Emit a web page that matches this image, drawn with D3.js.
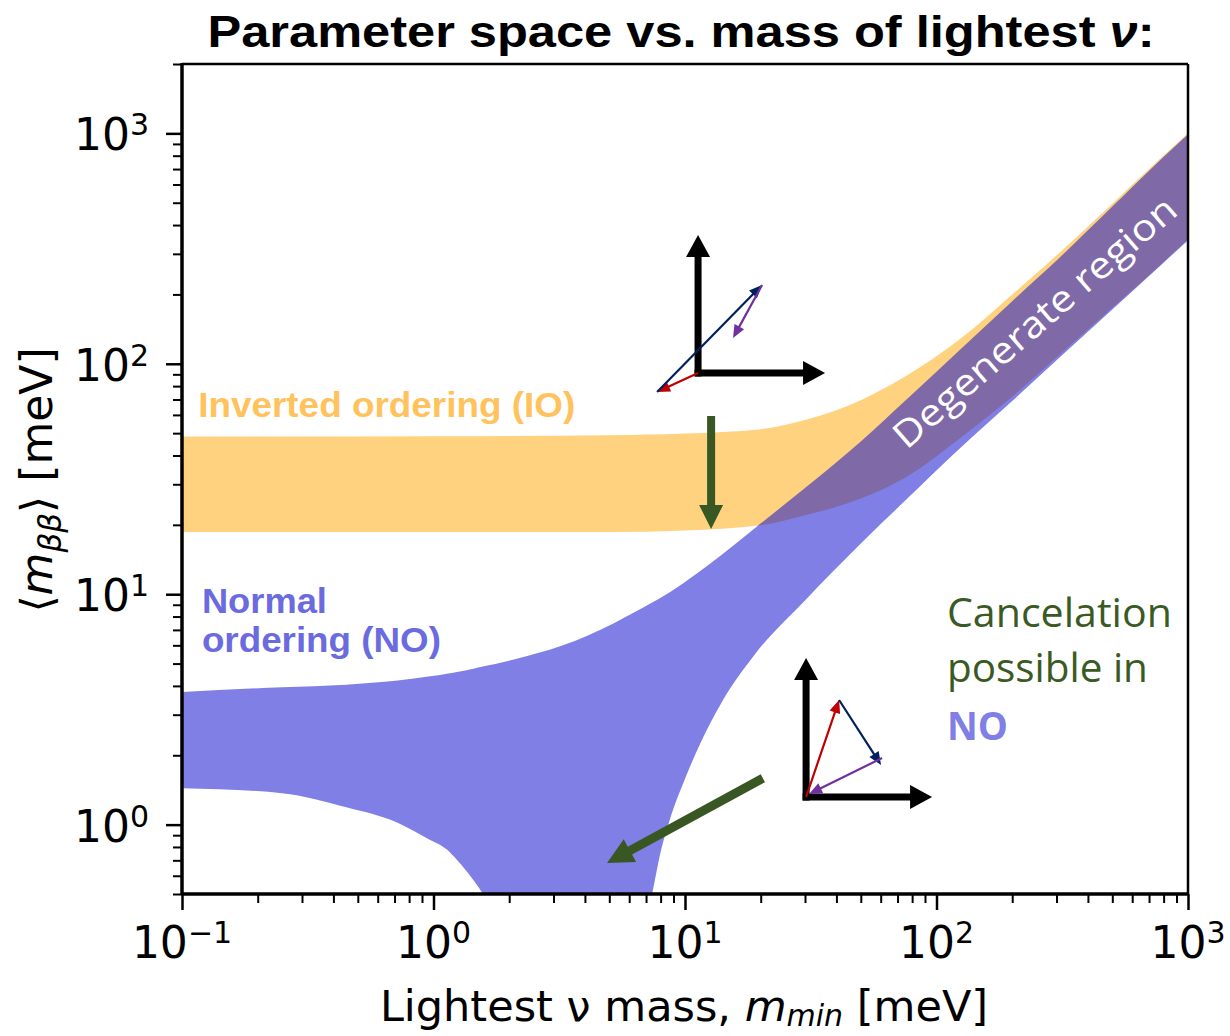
<!DOCTYPE html>
<html lang="en">
<head>
<meta charset="UTF-8">
<title>Parameter space vs. mass of lightest neutrino</title>
<script src="https://d3js.org/d3.v7.min.js"></script>
<style>
  body { margin: 0; background: #fff; }
  svg { display: block; }
</style>
</head>
<body>
<div id="chart"></div>
<script>
// Inverted ordering band, edges in meV vs lightest mass (meV)
const ioMass  = [0.1, 1, 5, 10, 20, 30, 50, 75, 124, 200, 310, 500, 774, 1000];
const ioUpper = [48.3, 48.5, 49, 49.8, 52, 57, 69.5, 88, 128, 200, 305, 495, 775, 1000];
const ioLower = [18.6, 18.6, 18.6, 18.9, 19.9, 22, 26, 32, 47.5, 72, 110, 175, 268, 347];

// Normal ordering band (lower edge drops below the plot floor in the funnel)
const noMass  = [0.1, 0.25, 0.45, 0.72, 0.97, 1.13, 1.24, 1.44, 1.57, 2.07, 3.27, 5.17, 7.4, 8, 8.7, 10, 11.5, 14, 19, 30, 50, 76, 124, 200, 310, 500, 774, 1000];
const noUpper = [3.76, 3.95, 4.05, 4.22, 4.4, 4.52, 4.6, 4.75, 4.85, 5.2, 6.0, 7.45, 9.2, 9.65, 10.2, 11.3, 12.6, 14.85, 19.4, 28.9, 46, 70, 115, 187, 290, 481, 764, 990];
const noLower = [1.44, 1.37, 1.19, 1.02, 0.857, 0.78, 0.703, 0.575, 0.5, 0.2, 0.2, 0.2, 0.5, 0.76, 1.05, 1.58, 2.25, 3.4, 5.5, 9.4, 16.6, 25.8, 43, 69, 107, 172, 266, 344];

// axis ticks
const majorTicksX = [0.1, 1, 10, 100, 1000];
const majorTicksY = [1, 10, 100, 1000];
const tickExponents = {0.1: "\u22121", 1: "0", 10: "1", 100: "2", 1000: "3"};

const width = 1230, height = 1036;
const margin = {top: 64, right: 42, bottom: 142, left: 182};

const x = d3.scaleLog().domain([0.1, 1000]).range([margin.left, width - margin.right]);
const y = d3.scaleLog().domain([0.5, 2000]).range([height - margin.bottom, margin.top]);

function minorTicks(scale) {
    const [a, b] = scale.domain();
    const out = [];
    for (let e = Math.floor(Math.log10(a)); e <= Math.ceil(Math.log10(b)); e++) {
        for (let k = 2; k <= 9; k++) {
            const v = k * Math.pow(10, e);
            if (v >= a * 0.999 && v <= b * 1.001) out.push(v);
        }
    }
    return out;
}

const svg = d3.select("#chart").append("svg")
    .attr("width", width)
    .attr("height", height);

svg.append("defs").append("clipPath").attr("id", "plotClip")
  .append("rect")
    .attr("x", margin.left).attr("y", margin.top)
    .attr("width", width - margin.left - margin.right)
    .attr("height", height - margin.top - margin.bottom);

const area = d3.area()
    .x(d => x(d.m))
    .y0(d => y(d.lo))
    .y1(d => y(d.hi))
    .curve(d3.curveMonotoneX);

const ioData = ioMass.map((m, i) => ({m, lo: ioLower[i], hi: ioUpper[i]}));
const noData = noMass.map((m, i) => ({m, lo: noLower[i], hi: noUpper[i]}));

const bands = svg.append("g").attr("clip-path", "url(#plotClip)");
bands.append("path").datum(ioData)
    .attr("d", area)
    .attr("fill", "orange").attr("fill-opacity", 0.5);
bands.append("path").datum(noData)
    .attr("d", area)
    .attr("fill", "mediumblue").attr("fill-opacity", 0.5);

// axes
const xAxisY = height - margin.bottom;
svg.append("g").attr("transform", `translate(0,${xAxisY})`)
    .call(d3.axisBottom(x).tickValues(minorTicks(x)).tickSize(9).tickFormat(""))
    .call(g => g.select(".domain").remove())
    .call(g => g.selectAll("line").attr("stroke-width", 2));
svg.append("g").attr("transform", `translate(0,${xAxisY})`)
    .call(d3.axisBottom(x).tickValues(majorTicksX).tickSize(16).tickFormat(""))
    .call(g => g.select(".domain").remove())
    .call(g => g.selectAll("line").attr("stroke-width", 2.5));
svg.append("g").attr("transform", `translate(${margin.left},0)`)
    .call(d3.axisLeft(y).tickValues(minorTicks(y)).tickSize(9).tickFormat(""))
    .call(g => g.select(".domain").remove())
    .call(g => g.selectAll("line").attr("stroke-width", 2));
svg.append("g").attr("transform", `translate(${margin.left},0)`)
    .call(d3.axisLeft(y).tickValues(majorTicksY).tickSize(16).tickFormat(""))
    .call(g => g.select(".domain").remove())
    .call(g => g.selectAll("line").attr("stroke-width", 2.5));

// tick labels 10^n
const tickFont = "'DejaVu Sans', sans-serif";
function powLabel(sel) {
    sel.append("tspan").text("10");
    sel.append("tspan").attr("font-size", 30).attr("dy", -15).text(d => tickExponents[d]);
}
svg.append("g").selectAll("text").data(majorTicksX).join("text")
    .attr("x", d => x(d)).attr("y", xAxisY + 64)
    .attr("text-anchor", "middle")
    .attr("font-family", tickFont).attr("font-size", 44)
    .call(powLabel);
svg.append("g").selectAll("text").data(majorTicksY).join("text")
    .attr("x", margin.left - 33).attr("y", d => y(d) + 17)
    .attr("text-anchor", "end")
    .attr("font-family", tickFont).attr("font-size", 44)
    .call(powLabel);

// spines
const spines = svg.append("g").attr("stroke", "#000").attr("fill", "none");
spines.append("line").attr("x1", margin.left).attr("x2", width - margin.right)
    .attr("y1", margin.top).attr("y2", margin.top).attr("stroke-width", 2.5);
spines.append("line").attr("x1", width - margin.right).attr("x2", width - margin.right)
    .attr("y1", margin.top).attr("y2", xAxisY).attr("stroke-width", 2.5);
spines.append("line").attr("x1", margin.left).attr("x2", margin.left)
    .attr("y1", margin.top - 1).attr("y2", xAxisY + 1).attr("stroke-width", 3.5);
spines.append("line").attr("x1", margin.left - 1).attr("x2", width - margin.right + 1)
    .attr("y1", xAxisY).attr("y2", xAxisY).attr("stroke-width", 3.5);

// axis titles
const xLabel = svg.append("text")
    .attr("x", (margin.left + width - margin.right) / 2 - 1).attr("y", 1021)
    .attr("text-anchor", "middle")
    .attr("font-family", tickFont).attr("font-size", 43);
xLabel.append("tspan").text("Lightest \u03bd mass, ");
xLabel.append("tspan").attr("font-style", "italic").text("m");
xLabel.append("tspan").attr("font-style", "italic").attr("font-size", 30).attr("dy", 5).text("min");
xLabel.append("tspan").attr("dy", -5).text(" [meV]");

const yLabel = svg.append("text")
    .attr("transform", `translate(52,${(margin.top + xAxisY) / 2 + 1}) rotate(-90)`)
    .attr("text-anchor", "middle")
    .attr("font-family", tickFont).attr("font-size", 44);
yLabel.append("tspan").text("\u27e8");
yLabel.append("tspan").attr("font-style", "italic").text("m");
yLabel.append("tspan").attr("font-style", "italic").attr("font-size", 31).attr("dy", 9).text("\u03b2\u03b2");
yLabel.append("tspan").attr("dy", -9).text("\u27e9 [meV]");

// title
const title = svg.append("text")
    .attr("x", 681).attr("y", 47)
    .attr("text-anchor", "middle")
    .attr("font-family", "'Liberation Sans', Arial, sans-serif")
    .attr("font-weight", "bold").attr("font-size", 44)
    .attr("textLength", 947).attr("lengthAdjust", "spacingAndGlyphs");
title.append("tspan").text("Parameter space vs. mass of lightest ");
title.append("tspan").attr("font-style", "italic").text("\u03bd");
title.append("tspan").text(":");

// text annotations, anchored in data coordinates
const sansBold = "'Liberation Sans', Arial, sans-serif";
const office = "'Open Sans', sans-serif";
const labels = [
    {text: "Inverted ordering (IO)", m: 0.116, v: 58.8, len: 377, font: sansBold, weight: "bold", size: 35, color: "#ffc25c"},
    {text: "Normal", m: 0.120, v: 8.29, len: 125, font: sansBold, weight: "bold", size: 35, color: "#6b6bdf"},
    {text: "ordering (NO)", m: 0.120, v: 5.61, len: 239, font: sansBold, weight: "bold", size: 35, color: "#6b6bdf"},
    {text: "Cancelation", m: 110, v: 7.21, len: 225, font: office, weight: "normal", size: 40, color: "#3a5a24"},
    {text: "possible in", m: 110, v: 4.16, len: 201, font: office, weight: "normal", size: 40, color: "#3a5a24"},
    {text: "NO", m: 110, v: 2.33, len: 61, font: office, weight: "bold", size: 40, color: "#7f7fe6"}
];
svg.append("g").selectAll("text").data(labels).join("text")
    .attr("x", d => x(d.m)).attr("y", d => y(d.v))
    .attr("font-family", d => d.font).attr("font-weight", d => d.weight)
    .attr("font-size", d => d.size).attr("fill", d => d.color)
    .attr("textLength", d => d.len).attr("lengthAdjust", "spacingAndGlyphs")
    .text(d => d.text);

svg.append("text")
    .attr("transform", `translate(${x(76)},${y(42)}) rotate(-41)`)
    .attr("font-family", office).attr("font-size", 37).attr("fill", "#fff")
    .attr("textLength", 362).attr("lengthAdjust", "spacingAndGlyphs")
    .text("Degenerate region");

// arrows
function arrowPoints(x1, y1, x2, y2, w, hw, hl) {
    const L = Math.hypot(x2 - x1, y2 - y1);
    const ux = (x2 - x1) / L, uy = (y2 - y1) / L, px = -uy, py = ux;
    const bx = x2 - ux * hl, by = y2 - uy * hl;
    return [
        [x1 + px * w / 2, y1 + py * w / 2], [bx + px * w / 2, by + py * w / 2],
        [bx + px * hw / 2, by + py * hw / 2], [x2, y2],
        [bx - px * hw / 2, by - py * hw / 2], [bx - px * w / 2, by - py * w / 2],
        [x1 - px * w / 2, y1 - py * w / 2]
    ].join(" ");
}
function arrow(g, x1, y1, x2, y2, color, w, hw, hl) {
    g.append("polygon").attr("points", arrowPoints(x1, y1, x2, y2, w, hw, hl)).attr("fill", color);
}

const annot = svg.append("g");
const green = "#385723";
arrow(annot, x(12.7), y(59.3), x(12.7), y(19.2), green, 8, 24, 24);
arrow(annot, x(20.4), y(1.59), x(4.9), y(0.681), green, 9, 26, 26);

// vector diagrams: corner in data coords, vectors as pixel offsets
const diagrams = [
    {m: 11.27, v: 91.2, up: 138, right: 127,
     vecs: [[0, 0, -41, 19, "#c00000"], [-41, 19, 64, -88, "#002060"], [64, -88, 35, -35, "#7030a0"]]},
    {m: 30.3, v: 1.318, up: 139, right: 126,
     vecs: [[0, 0, 33, -97, "#c00000"], [33, -97, 75, -32, "#002060"], [76, -39, 3, -3, "#7030a0"]]}
];
diagrams.forEach(dg => {
    const cx = x(dg.m), cy = y(dg.v);
    const g = annot.append("g");
    arrow(g, cx, cy + 3.5, cx, cy - dg.up, "#000", 7, 24, 22);
    arrow(g, cx - 3.5, cy, cx + dg.right, cy, "#000", 7, 24, 22);
    dg.vecs.forEach(([a, b, c, d, col]) => arrow(g, cx + a, cy + b, cx + c, cy + d, col, 2.2, 11, 13));
});
</script>
</body>
</html>
